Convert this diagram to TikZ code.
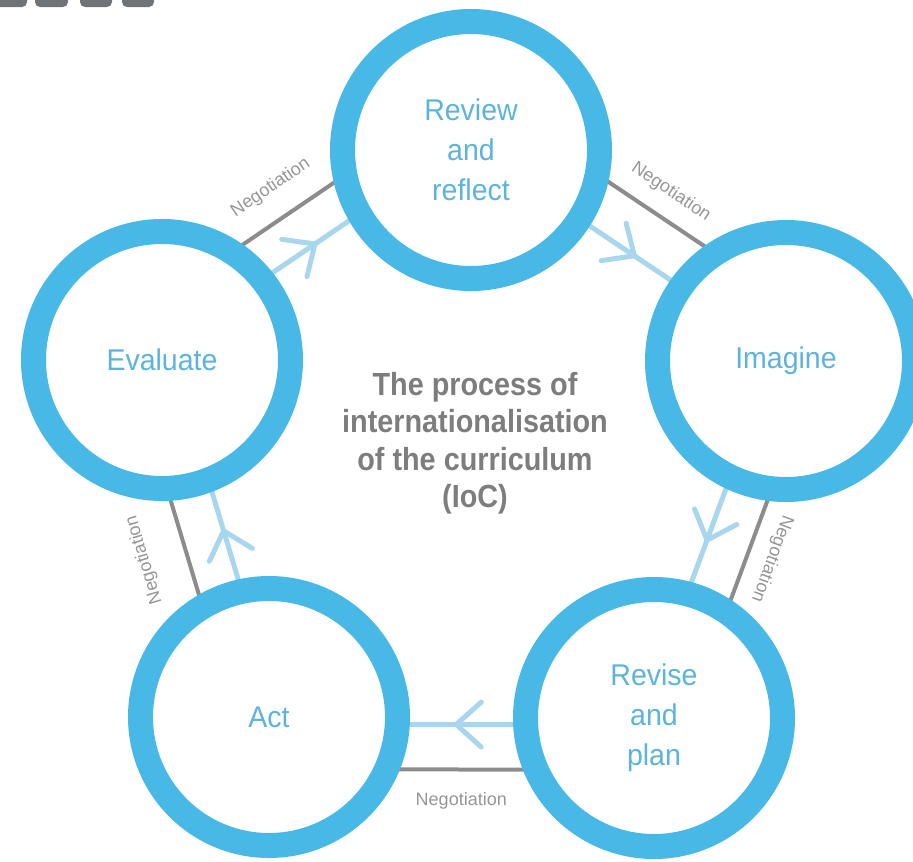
\documentclass[tikz,border=0pt]{standalone}
\usepackage{fontspec}
\setmainfont{Liberation Sans}
\newfontfamily\centerfont[FakeStretch=0.9]{Liberation Sans}
\newfontfamily\stagefont[FakeStretch=0.95]{Liberation Sans}
\usetikzlibrary{calc,arrows.meta,decorations.markings,backgrounds}
\definecolor{ringblue}{RGB}{72,185,230}
\definecolor{txtblue}{RGB}{92,180,222}
\definecolor{arrowblue}{RGB}{168,214,238}
\definecolor{linegray}{RGB}{140,140,140}
\definecolor{labelgray}{RGB}{150,150,150}
\definecolor{centergray}{RGB}{125,125,125}
\definecolor{darkbar}{RGB}{110,116,120}
\tikzset{
  ring/.style={circle, draw=ringblue, line width=25pt, fill=white,
    minimum size=257pt, inner sep=0pt, align=center, text=txtblue,
    font=\stagefont\fontsize{30}{40}\selectfont},
  centertext/.style={align=center, text=centergray, inner sep=0pt,
    font=\centerfont\bfseries\fontsize{32}{37.5}\selectfont},
  neg/.style={draw=linegray, line width=4pt},
  lab/.style={text=labelgray, inner sep=0pt, font=\fontsize{18}{20}\selectfont},
  flow/.style={draw=arrowblue, line width=5pt, postaction={decorate},
    decoration={markings, mark=at position 0.52 with
      {\arrow[arrowblue]{Straight Barb[length=25pt, width=45pt, line width=5pt, round]}}}},
  bar/.style={fill=darkbar, rounded corners=5pt}
}
\begin{document}
\begin{tikzpicture}[x=1pt, y=-1pt]
\useasboundingbox (0,0) rectangle (913,862);
\clip (0,0) rectangle (913,862);
% cropped dark shapes at the top-left edge
\fill[bar] (-10,-20) rectangle (27,7);
\fill[bar] (35,-20) rectangle (68,7);
\fill[bar] (80,-20) rectangle (112,7);
\fill[bar] (122,-20) rectangle (154,7);
% stages
\node[ring] (R) at (471,150) {Review\\and\\reflect};
\node[ring] (I) at (786,361) {Imagine};
\node[ring] (P) at (654,718) {Revise\\and\\plan};
\node[ring] (A) at (269,717) {Act};
\node[ring] (E) at (162,360) {Evaluate};
\node[centertext] (T) at (475,443) {The process of\\internationalisation\\of the curriculum\\(IoC)};
\begin{scope}[on background layer]
  % Evaluate -> Review
  \draw[neg] ($(E.center)!50pt!90:(R.center)$) -- node[lab, sloped, allow upside down, above=21pt] {Negotiation} ($(R.center)!50pt!-90:(E.center)$);
  \draw[flow] ($(E.center)!10pt!90:(R.center)$) -- ($(R.center)!10pt!-90:(E.center)$);
  % Review -> Imagine
  \draw[neg] ($(R.center)!50pt!90:(I.center)$) -- node[lab, sloped, allow upside down, above=16pt] {Negotiation} ($(I.center)!50pt!-90:(R.center)$);
  \draw[flow] ($(R.center)!3pt!90:(I.center)$) -- ($(I.center)!3pt!-90:(R.center)$);
  % Imagine -> Revise
  \draw[neg] ($(I.center)!31pt!90:(P.center)$) -- node[lab, sloped, allow upside down, above=14pt] {Negotiation} ($(P.center)!31pt!-90:(I.center)$);
  \draw[flow] ($(I.center)!-12pt!90:(P.center)$) -- ($(P.center)!-12pt!-90:(I.center)$);
  % Revise -> Act
  \draw[neg] ($(A.center)!52pt!-90:(P.center)$) -- node[lab, sloped, below=21pt] {Negotiation} ($(P.center)!52pt!90:(A.center)$);
  \draw[flow] ($(P.center)!7pt!90:(A.center)$) -- ($(A.center)!7pt!-90:(P.center)$);
  % Act -> Evaluate
  \draw[neg] ($(A.center)!32pt!90:(E.center)$) -- node[lab, sloped, allow upside down, above=32pt] {Negotiation} ($(E.center)!32pt!-90:(A.center)$);
  \draw[flow] ($(A.center)!-10pt!90:(E.center)$) -- ($(E.center)!-10pt!-90:(A.center)$);
\end{scope}
\end{tikzpicture}
\end{document}
